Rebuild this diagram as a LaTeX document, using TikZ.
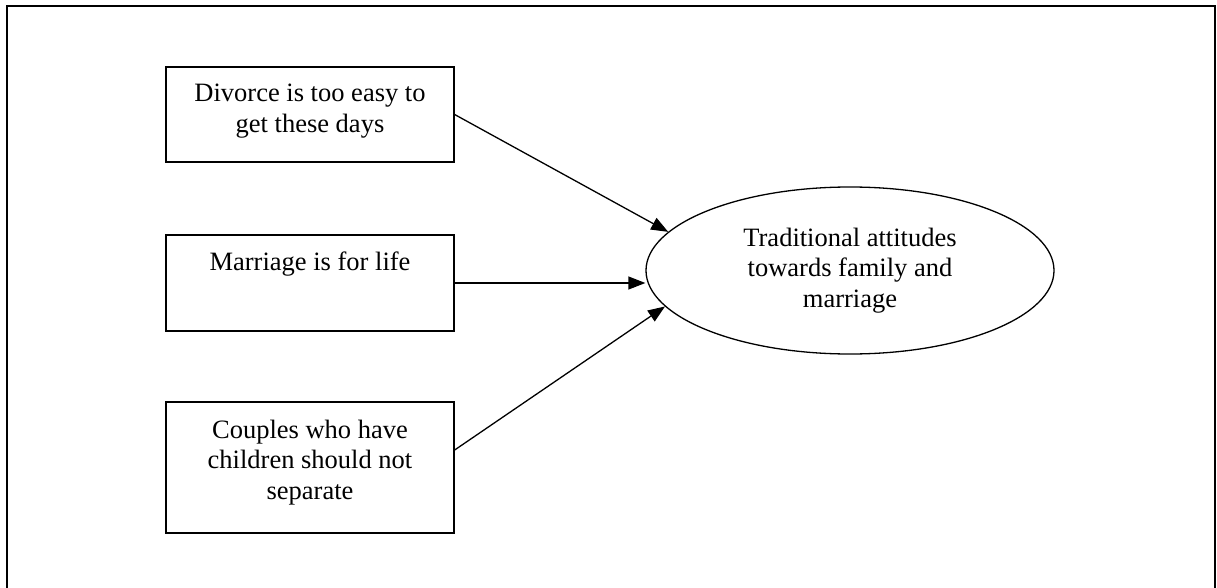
\documentclass[tikz,border=0pt]{standalone}
\usepackage{fontspec}
\setmainfont{Liberation Serif}
\usetikzlibrary{arrows.meta,shapes.geometric}
\begin{document}
\begin{tikzpicture}[x=1pt,y=-1pt,
  frame/.style={line width=2pt},
  box/.style={draw,line width=1.3pt,rectangle,minimum width=288pt,inner sep=0pt},
  txt/.style={align=center,inner sep=0pt,anchor=north,font=\fontsize{26.5pt}{30.5pt}\selectfont},
  oval/.style={draw,line width=1.3pt,ellipse,minimum width=408pt,minimum height=167pt,inner sep=0pt,align=center,font=\fontsize{26.5pt}{30.5pt}\selectfont},
  arr/.style={line width=1.3pt,-{Triangle[length=17pt,width=13pt]}}]
\useasboundingbox (0,0) rectangle (1217,588);
\draw[frame] (7,600) coordinate (fbl) -- (7,6) -- (1215,6) -- (1215,600);
\node[box,minimum height=95pt] (b1) at (310,114.5) {};
\node[box,minimum height=96pt] (b2) at (310,283) {};
\node[box,minimum height=131pt] (b3) at (310,467.5) {};
\node[txt] (t1) at (310,83.9) {Divorce is too easy to\\get these days};
\node[txt] (t2) at (310,251.9) {Marriage is for life};
\node[txt] (t3) at (310,419.9) {Couples who have\\children should not\\separate};
\node[oval] (e) at (850,270.5) {Traditional attitudes\\towards family and\\marriage};
\draw[arr] (b1.east) -- (e.168.4);
\draw[arr] (b2.east) -- (e.west |- b2.east);
\draw[arr] ([yshift=17.5pt]b3.east) -- (e.191.6);
\end{tikzpicture}
\end{document}
